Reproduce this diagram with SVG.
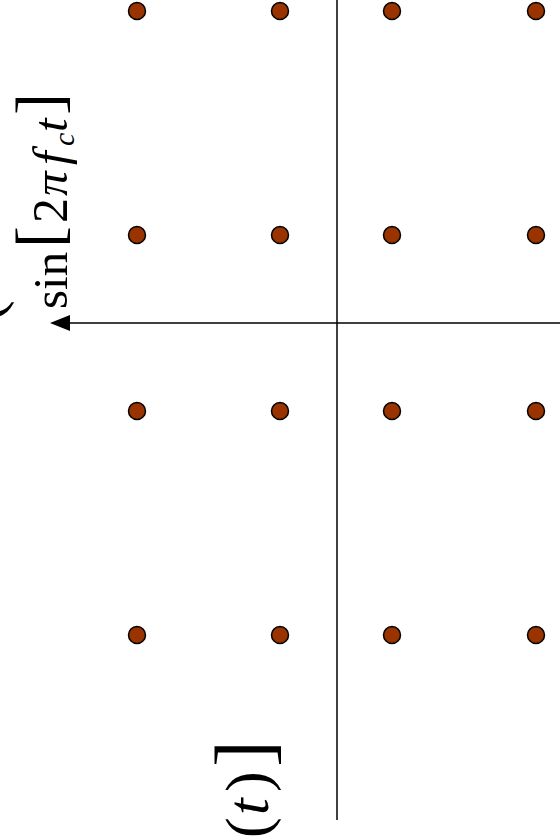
<svg xmlns="http://www.w3.org/2000/svg" width="560" height="836" viewBox="0 0 560 836">
<style>
.pt{fill:#993300;stroke:#000;stroke-width:1.5}
.ax{stroke:#000;stroke-width:1.5;fill:none}
.t{font-family:"Liberation Serif","Times New Roman",serif;fill:#000}
.i{font-style:italic}
</style>
<rect width="560" height="836" fill="#fff"/>
<g id="axes">
<line class="ax" x1="337" y1="0" x2="337" y2="820"/>
<line class="ax" x1="66" y1="323" x2="560" y2="323"/>
<polygon points="50,323 70,315 70,331" fill="#000"/>
</g>
<g id="points">
<circle class="pt" cx="137" cy="11" r="8.5"/><circle class="pt" cx="280" cy="11" r="8.5"/><circle class="pt" cx="392" cy="11" r="8.5"/><circle class="pt" cx="536" cy="11" r="8.5"/>
<circle class="pt" cx="137" cy="235" r="8.5"/><circle class="pt" cx="280" cy="235" r="8.5"/><circle class="pt" cx="392" cy="235" r="8.5"/><circle class="pt" cx="536" cy="235" r="8.5"/>
<circle class="pt" cx="137" cy="411" r="8.5"/><circle class="pt" cx="280" cy="411" r="8.5"/><circle class="pt" cx="392" cy="411" r="8.5"/><circle class="pt" cx="536" cy="411" r="8.5"/>
<circle class="pt" cx="137" cy="635" r="8.5"/><circle class="pt" cx="280" cy="635" r="8.5"/><circle class="pt" cx="392" cy="635" r="8.5"/><circle class="pt" cx="536" cy="635" r="8.5"/>
</g>
<g id="label-edge">
<text class="t" transform="translate(1,0) rotate(-90)" x="-321" y="0" font-size="62">(</text>
</g>
<g id="label-sin" transform="translate(67,310) rotate(-90)">
<text class="t" x="1" y="0" font-size="49">sin</text>
<text class="t" x="62" y="-6" font-size="66">[</text>
<text class="t" x="87" y="0" font-size="50">2</text>
<text class="t i" x="114" y="0" font-size="49">π</text>
<text class="t i" x="145" y="0" font-size="49">f</text>
<text class="t i" x="164" y="7" font-size="30">c</text>
<text class="t i" x="178" y="0" font-size="49">t</text>
<text class="t" x="195" y="-6" font-size="66">]</text>
</g>
<g id="label-cos" transform="translate(268,836) rotate(-90)">
<text class="t" x="-2" y="0" font-size="62">(</text>
<text class="t i" x="21" y="0" font-size="60">t</text>
<text class="t" x="44" y="0" font-size="62">)</text>
<text class="t" x="69" y="2" font-size="80">]</text>
</g>
</svg>
